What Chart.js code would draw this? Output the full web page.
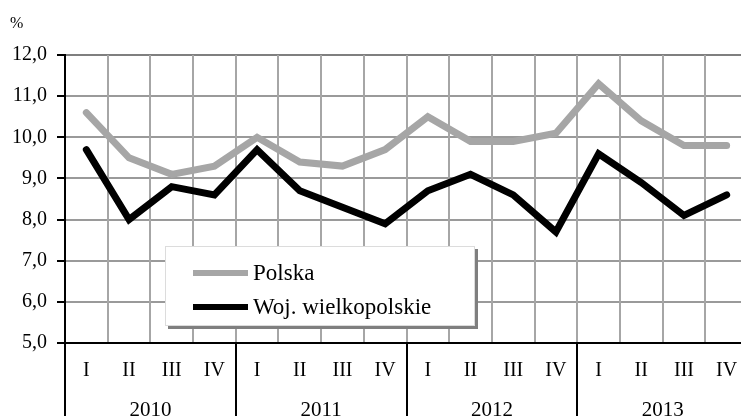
<!DOCTYPE html>
<html>
<head>
<meta charset="utf-8">
<script src="https://cdn.jsdelivr.net/npm/chart.js@4/dist/chart.umd.min.js"></script>
<style>
    html, body { margin: 0; padding: 0; background: #fff; }
    #wrap { position: relative; width: 741px; height: 416px; overflow: hidden; font-family: 'Liberation Serif', 'Times New Roman', serif; }
    #chart { position: absolute; left: 0; top: 0; }
    #unit { position: absolute; left: 10px; top: 14px; font-size: 16px; }
    #legend {
        position: absolute; left: 165px; top: 246px; width: 308px; height: 78px;
        background: #fff; border: 1px solid #dcdcdc; box-shadow: 3px 3px 0 #7f7f7f;
    }
    .row { position: absolute; left: 27px; height: 28px; display: flex; align-items: center; font-size: 23px; }
    .swatch { width: 55px; height: 6px; margin-right: 5px; }
</style>
</head>
<body>
<div id="wrap">
    <canvas id="chart" width="760" height="416"></canvas>
    <div id="unit">%</div>
    <div id="legend"></div>
</div>
<script>
const years = ['2010', '2011', '2012', '2013'];
const quarters = ['I', 'II', 'III', 'IV'];
const polska = [10.6, 9.5, 9.1, 9.3, 10.0, 9.4, 9.3, 9.7, 10.5, 9.9, 9.9, 10.1, 11.3, 10.4, 9.8, 9.8];
const wielkopolskie = [9.7, 8.0, 8.8, 8.6, 9.7, 8.7, 8.3, 7.9, 8.7, 9.1, 8.6, 7.7, 9.6, 8.9, 8.1, 8.6];
const yMin = 5, yMax = 12, yStep = 1;

const quarterLabels = [];
years.forEach(() => quarters.forEach(q => quarterLabels.push(q)));

const font = { family: "'Liberation Serif', 'Times New Roman', serif", size: 20 };

// black separators between years, below the plot area
const yearSeparators = {
    id: 'yearSeparators',
    afterDraw(chart) {
        const xs = chart.scales.x;
        const c = chart.ctx;
        const step = xs.getPixelForValue(1) - xs.getPixelForValue(0);
        c.save();
        c.strokeStyle = '#000';
        c.lineWidth = 2;
        for (let i = 0; i <= quarterLabels.length; i += quarters.length) {
            const bx = Math.round(xs.getPixelForValue(i) - step / 2);
            c.beginPath();
            c.moveTo(bx, chart.chartArea.bottom);
            c.lineTo(bx, chart.height);
            c.stroke();
        }
        c.restore();
    }
};

const chart = new Chart(document.getElementById('chart'), {
    type: 'line',
    data: {
        labels: quarterLabels,
        datasets: [
            { label: 'Polska', data: polska, borderColor: '#a6a6a6', borderWidth: 7 },
            { label: 'Woj. wielkopolskie', data: wielkopolskie, borderColor: '#000000', borderWidth: 7 }
        ]
    },
    options: {
        responsive: false,
        animation: false,
        devicePixelRatio: 1,
        layout: { padding: { top: 55, right: 12, left: 0, bottom: 0 } },
        elements: {
            point: { radius: 0 },
            line: { tension: 0, borderCapStyle: 'round', borderJoinStyle: 'miter' }
        },
        plugins: { legend: { display: false }, tooltip: { enabled: false } },
        scales: {
            y: {
                min: yMin,
                max: yMax,
                afterFit: s => { s.width = 65; },
                ticks: {
                    stepSize: yStep,
                    color: '#000',
                    font: font,
                    padding: 10,
                    callback: v => v.toFixed(1).replace('.', ',')
                },
                grid: {
                    color: ctx => ctx.tick && ctx.tick.value === yMax ? '#7f7f7f' : '#9a9a9a',
                    lineWidth: 2,
                    tickColor: '#000',
                    tickLength: 8
                },
                border: { color: '#000', width: 2 }
            },
            x: {
                offset: true,
                afterFit: s => { s.height = 40; },
                ticks: { color: '#000', font: font, padding: 16, maxRotation: 0, autoSkip: false },
                grid: { offset: true, color: '#a6a6a6', lineWidth: 2, drawTicks: false },
                border: { color: '#000', width: 2 }
            },
            x2: {
                type: 'category',
                position: 'bottom',
                labels: years,
                offset: true,
                afterFit: s => { s.height = 33; },
                ticks: { color: '#000', font: { family: font.family, size: 21 }, padding: 15, maxRotation: 0 },
                grid: { display: false, drawTicks: false },
                border: { display: false }
            }
        }
    },
    plugins: [yearSeparators]
});

// legend built from the datasets
const legendEl = document.getElementById('legend');
chart.data.datasets.forEach((ds, i) => {
    const row = document.createElement('div');
    row.className = 'row';
    row.style.top = (12 + i * 34) + 'px';
    row.innerHTML = `<span class="swatch" style="background:${ds.borderColor}"></span><span>${ds.label}</span>`;
    legendEl.appendChild(row);
});
</script>
</body>
</html>
